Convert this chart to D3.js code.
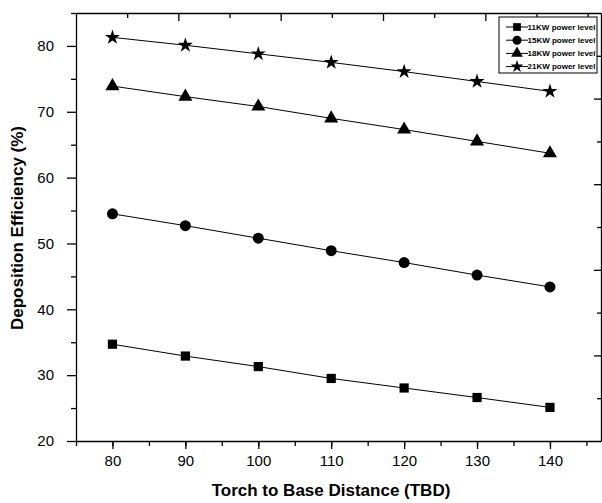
<!DOCTYPE html>
<html>
<head>
<meta charset="utf-8">
<script src="https://cdn.jsdelivr.net/npm/d3@7"></script>
<style>
  body { margin: 0; background: #fff; }
  svg { display: block; font-family: "Liberation Sans", Arial, sans-serif; }
  .domain { stroke: #000; stroke-width: 1.3; }
  .tick line { stroke: #000; stroke-width: 1.3; }
</style>
</head>
<body>
<svg id="chart"></svg>
<script>
// Torch to base distance (x) and deposition efficiency per power level
const distance = [80, 90, 100, 110, 120, 130, 140];
const kw11 = [34.7, 32.9, 31.3, 29.5, 28.05, 26.6, 25.1];
const kw15 = [54.5, 52.7, 50.8, 48.9, 47.1, 45.2, 43.4];
const kw18 = [73.9, 72.3, 70.8, 69.0, 67.3, 65.5, 63.7];
const kw21 = [81.3, 80.1, 78.8, 77.5, 76.1, 74.6, 73.1];
const seriesNames = ["11KW power level", "15KW power level", "18KW power level", "21KW power level"];
const xTicks = [80, 90, 100, 110, 120, 130, 140];
const yTicks = [20, 30, 40, 50, 60, 70, 80];

const w = 602;
const h = 503;
const padLeft = 76, padRight = 601, padTop = 13, padBottom = 441;

const svg = d3.select("#chart").attr("width", w).attr("height", h);

const xScale = d3.scaleLinear().domain([75, 147]).range([padLeft, padRight]);
const yScale = d3.scaleLinear().domain([20, 85]).range([padBottom, padTop]);
// top / right frame axes carry their own unlabeled tick spacing
const xTop = d3.scaleLinear().domain([0, 5.13]).range([padLeft, padRight]);
const yRight = d3.scaleLinear().domain([0, 10]).range([padBottom, padTop]);

const series = [
  { name: seriesNames[0], values: kw11, symbol: d3.symbolSquare, size: 85, legendSize: 60 },
  { name: seriesNames[1], values: kw15, symbol: d3.symbolCircle, size: 95, legendSize: 65 },
  { name: seriesNames[2], values: kw18, symbol: d3.symbolTriangle, size: 85, legendSize: 60 },
  { name: seriesNames[3], values: kw21, symbol: d3.symbolStar, size: 70, legendSize: 50 }
];

// minor ticks
svg.append("g")
  .attr("transform", "translate(0," + padBottom + ")")
  .call(d3.axisBottom(xScale).tickValues(d3.range(75, 147, 5)).tickSize(5).tickFormat(""))
  .call(g => g.select(".domain").remove());
svg.append("g")
  .attr("transform", "translate(" + padLeft + ",0)")
  .call(d3.axisLeft(yScale).tickValues(d3.range(25, 86, 10)).tickSize(5).tickFormat(""))
  .call(g => g.select(".domain").remove());
svg.append("g")
  .attr("transform", "translate(0," + padTop + ")")
  .call(d3.axisBottom(xTop).tickValues(d3.range(0.5, 5.13, 1)).tickSize(5).tickFormat(""))
  .call(g => g.select(".domain").remove());
svg.append("g")
  .attr("transform", "translate(" + padRight + ",0)")
  .call(d3.axisLeft(yRight).tickValues([1, 3, 5, 7, 9]).tickSize(4).tickFormat(""))
  .call(g => g.select(".domain").remove());

// major ticks + frame
const xAxis = svg.append("g")
  .attr("transform", "translate(0," + padBottom + ")")
  .call(d3.axisBottom(xScale).tickValues(xTicks).tickSize(8).tickSizeOuter(0).tickPadding(6));
xAxis.selectAll("text").attr("font-size", 15).attr("fill", "#000");

const yAxis = svg.append("g")
  .attr("transform", "translate(" + padLeft + ",0)")
  .call(d3.axisLeft(yScale).tickValues(yTicks).tickSize(9).tickSizeOuter(0).tickPadding(13));
yAxis.selectAll("text").attr("font-size", 15).attr("fill", "#000");

svg.append("g")
  .attr("transform", "translate(0," + padTop + ")")
  .call(d3.axisBottom(xTop).tickValues(d3.range(1, 5.13, 1)).tickSize(8).tickSizeOuter(0).tickFormat(""));
svg.append("g")
  .attr("transform", "translate(" + padRight + ",0)")
  .call(d3.axisLeft(yRight).tickValues([2, 4, 6, 8]).tickSize(7).tickSizeOuter(0).tickFormat(""));

// axis titles
svg.append("text")
  .attr("x", 331)
  .attr("y", 496)
  .attr("text-anchor", "middle")
  .attr("font-size", 17)
  .attr("font-weight", "bold")
  .text("Torch to Base Distance (TBD)");

svg.append("text")
  .attr("transform", "translate(23,228) rotate(-90)")
  .attr("text-anchor", "middle")
  .attr("font-size", 17)
  .attr("font-weight", "bold")
  .text("Deposition Efficiency (%)");

// lines and markers
const line = d3.line()
  .x((d, i) => xScale(distance[i]))
  .y(d => yScale(d));

series.forEach(s => {
  svg.append("path")
    .attr("d", line(s.values))
    .attr("fill", "none")
    .attr("stroke", "#000")
    .attr("stroke-width", 1);
  svg.selectAll(null)
    .data(s.values)
    .enter()
    .append("path")
    .attr("transform", (d, i) => "translate(" + xScale(distance[i]) + "," + yScale(d) + ")")
    .attr("d", d3.symbol().type(s.symbol).size(s.size))
    .attr("fill", "#000");
});

// legend
const legend = svg.append("g").attr("transform", "translate(499,17)");
legend.append("rect")
  .attr("width", 98)
  .attr("height", 56)
  .attr("fill", "#fff")
  .attr("stroke", "#000")
  .attr("stroke-width", 1);
series.forEach((s, i) => {
  const g = legend.append("g").attr("transform", "translate(0," + (10 + i * 13.2) + ")");
  g.append("line")
    .attr("x1", 7).attr("x2", 29)
    .attr("stroke", "#000").attr("stroke-width", 1);
  g.append("path")
    .attr("transform", "translate(18,0)")
    .attr("d", d3.symbol().type(s.symbol).size(s.legendSize))
    .attr("fill", "#000");
  g.append("text")
    .attr("x", 28.5)
    .attr("y", 2.8)
    .attr("font-size", 8)
    .attr("font-weight", "bold")
    .attr("textLength", 68)
    .text(s.name);
});
</script>
</body>
</html>
